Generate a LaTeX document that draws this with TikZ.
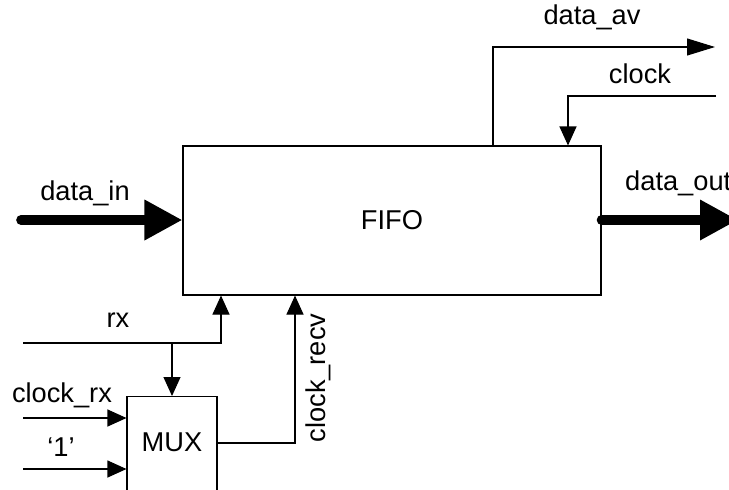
\documentclass[tikz,border=0pt]{standalone}
\usepackage{fontspec}
\setmainfont{Liberation Sans}
\usetikzlibrary{arrows.meta,positioning}
\begin{document}
\begin{tikzpicture}[font=\fontsize{15.5}{18}\selectfont,
    sig/.style={line width=0.6pt, -{Triangle[length=0.38cm,width=0.34cm]}},
    bus/.style={line width=5.5pt, line cap=round, -{Triangle[length=0.76cm,width=0.76cm]}},
    blk/.style={draw, line width=0.6pt, inner sep=0pt}]
                    % Frame
                    \clip (0,0) rectangle (14.58,-9.78);
                    % Blocks
                    \node[blk, minimum width=8.36cm, minimum height=2.98cm] (fifo) at (7.84,-4.41) {};
                    \node (fifolabel) at (7.84,-4.41) {FIFO};
                    \node[blk, minimum width=1.8cm, minimum height=2.6cm, anchor=north] (mux) at (3.44,-7.92) {};
                    \node (muxlabel) at (3.44,-8.84) {MUX};
                    % Free ends
                    \coordinate (inend) at (0.42,-4.4);
                    \coordinate (outend) at (14.76,-4.4);
                    \coordinate (avend) at (14.3,-0.94);
                    \coordinate (clkend) at (14.32,-1.92);
                    \coordinate (rxend) at (0.46,-6.86);
                    \coordinate (crxend) at (0.46,-8.36);
                    \coordinate (oneend) at (0.46,-9.38);
                    \coordinate (rxtap) at (3.44,-6.86);
                    % Thick Arrows
                    \draw[bus] (inend) -- (fifo.west |- inend);
                    \node (datain) at (1.7,-3.86) {data\_in};
                    \draw[bus] (fifo.east |- outend) -- (outend);
                    \node[anchor=west] (dataout) at (12.38,-3.66) {data\_out};
                    % Top Arrows
                    \draw[line width=0.6pt, -{Triangle[length=0.56cm,width=0.34cm]}] (fifo.north -| 9.86,0) |- (avend);
                    \node (dataav) at (11.84,-0.34) {data\_av};
                    \draw[sig] (clkend) -| (fifo.north -| 11.36,0);
                    \node (clock) at (12.8,-1.48) {clock};
                    % Bottom Arrows
                    \draw[sig] (rxend) -| (fifo.south -| 4.42,0);
                    \node (rx) at (2.36,-6.4) {rx};
                    \draw[sig] (rxtap) -- (mux.north);
                    \draw[sig] (crxend) -- (mux.west |- crxend);
                    \node (clockrx) at (1.24,-7.9) {clock\_rx};
                    \draw[sig] (oneend) -- (mux.west |- oneend);
                    \node (one) at (1.22,-8.94) {`1'};
                    \draw[sig] (mux.east |- 0,-8.86) -| (fifo.south -| 5.9,0);
                    \node[rotate=90] (clockrecv) at (6.36,-7.56) {clock\_recv};
                \end{tikzpicture}
\end{document}
